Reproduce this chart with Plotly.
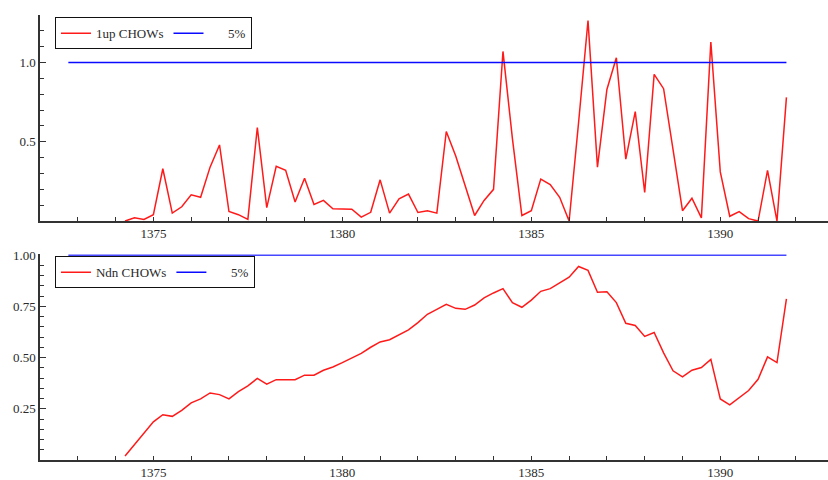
import plotly.graph_objects as go

# ---- data (quarterly, plotted at year + (q-1)/4) ----
first_period = 1374.25
quarter_step = 0.25

up_chow = [0.00, 0.02, 0.01,
           0.04, 0.33, 0.05, 0.09,
           0.165, 0.15, 0.34, 0.48,
           0.06, 0.04, 0.01, 0.59,
           0.085, 0.345, 0.32, 0.12,
           0.27, 0.105, 0.13, 0.077,
           0.075, 0.075, 0.025, 0.055,
           0.26, 0.05, 0.14, 0.17,
           0.054, 0.065, 0.05, 0.565,
           0.41, 0.23, 0.035, 0.13,
           0.20, 1.07, 0.52, 0.035,
           0.065, 0.265, 0.23, 0.15,
           0.0, 0.62, 1.265, 0.34,
           0.83, 1.03, 0.39, 0.69,
           0.18, 0.925, 0.835, 0.45,
           0.065, 0.144, 0.02, 1.13,
           0.31, 0.03, 0.06, 0.015,
           0.0, 0.32, 0.0, 0.78]

ndn_chow = [0.02, 0.074, 0.13,
            0.186, 0.221, 0.213, 0.242,
            0.279, 0.298, 0.327, 0.319,
            0.298, 0.334, 0.362, 0.398,
            0.37, 0.392, 0.392, 0.392,
            0.414, 0.414, 0.438, 0.454,
            0.475, 0.499, 0.52, 0.55,
            0.576, 0.587, 0.611, 0.635,
            0.67, 0.711, 0.735, 0.759,
            0.74, 0.735, 0.756, 0.791,
            0.815, 0.836, 0.767, 0.745,
            0.78, 0.823, 0.836, 0.863,
            0.892, 0.944, 0.925, 0.818,
            0.821, 0.768, 0.667, 0.656,
            0.603, 0.622, 0.523, 0.435,
            0.406, 0.438, 0.451, 0.491,
            0.298, 0.269, 0.302, 0.339,
            0.394, 0.503, 0.475, 0.786]

crit_x = [1372.75, 1391.75]
crit_y = [1.0, 1.0]

x_ticks = [1375, 1380, 1385, 1390]
top_yticks = [0.5, 1.0]
bot_yticks = [0.25, 0.50, 0.75, 1.00]

periods = [first_period + quarter_step * i for i in range(len(up_chow))]

FONT = "Liberation Serif"
RED = "#ff1a1a"
BLUE = "#0a0aff"
AXC = "#333333"
TXT = "#2a2a2a"
NB = "\u00a0"

fig = go.Figure()
fig.add_trace(go.Scatter(x=periods, y=up_chow, mode="lines", name="1up CHOWs",
                         line=dict(color=RED, width=1.5), xaxis="x", yaxis="y",
                         legend="legend"))
fig.add_trace(go.Scatter(x=crit_x, y=crit_y, mode="lines", name=NB * 6 + "5%",
                         line=dict(color=BLUE, width=1.5), xaxis="x", yaxis="y",
                         legend="legend"))
fig.add_trace(go.Scatter(x=periods, y=ndn_chow, mode="lines", name="Ndn CHOWs",
                         line=dict(color=RED, width=1.5), xaxis="x2", yaxis="y2",
                         legend="legend2"))
fig.add_trace(go.Scatter(x=crit_x, y=crit_y, mode="lines", name=NB * 6 + "5%",
                         line=dict(color=BLUE, width=1.5), xaxis="x2", yaxis="y2",
                         legend="legend2"))

xcommon = dict(range=[1372, 1392.85], tickvals=x_ticks, ticks="inside", ticklen=4,
               tickcolor=AXC, showline=True, linecolor=AXC, linewidth=1.5,
               showgrid=False, zeroline=False,
               minor=dict(dtick=1, tick0=1372, ticks="inside", ticklen=4, tickcolor=AXC, showgrid=False),
               tickfont=dict(family=FONT, size=13, color=TXT))

legend_common = dict(xanchor="left", yanchor="top", orientation="h",
                     bgcolor="white", bordercolor="#111", borderwidth=1,
                     font=dict(family=FONT, size=13, color=TXT),
                     itemwidth=30, tracegroupgap=0)

fig.update_layout(
    width=828, height=480,
    margin=dict(l=40, r=0, t=15, b=17),
    paper_bgcolor="white", plot_bgcolor="white",
    font=dict(family=FONT, size=13, color=TXT),
    xaxis=dict(domain=[0, 1], anchor="y", **xcommon),
    yaxis=dict(domain=[0.537, 1.0], anchor="x", range=[0, 1.3],
               tickvals=top_yticks, tickformat=".1f", ticks="inside", ticklen=6,
               tickcolor=AXC, showline=True, linecolor=AXC, linewidth=1.5,
               showgrid=False, zeroline=False,
               minor=dict(dtick=0.1, tick0=0, ticks="inside", ticklen=4, tickcolor=AXC, showgrid=False),
               tickfont=dict(family=FONT, size=13, color=TXT)),
    xaxis2=dict(domain=[0, 1], anchor="y2", **xcommon),
    yaxis2=dict(domain=[0.0, 0.462], anchor="x2", range=[0, 1.003],
                tickvals=bot_yticks, tickformat=".2f", ticks="inside", ticklen=6,
                tickcolor=AXC, showline=True, linecolor=AXC, linewidth=1.5,
                showgrid=False, zeroline=False,
                minor=dict(dtick=0.05, tick0=0, ticks="inside", ticklen=4, tickcolor=AXC, showgrid=False),
                tickfont=dict(family=FONT, size=13, color=TXT)),
    legend=dict(x=0.019, y=0.995, **legend_common),
    legend2=dict(x=0.019, y=0.458, **legend_common),
    showlegend=True,
)

fig.write_html("out.html",
               config={"displayModeBar": False},
               post_script="document.body.style.margin='0';document.body.style.padding='0';")
